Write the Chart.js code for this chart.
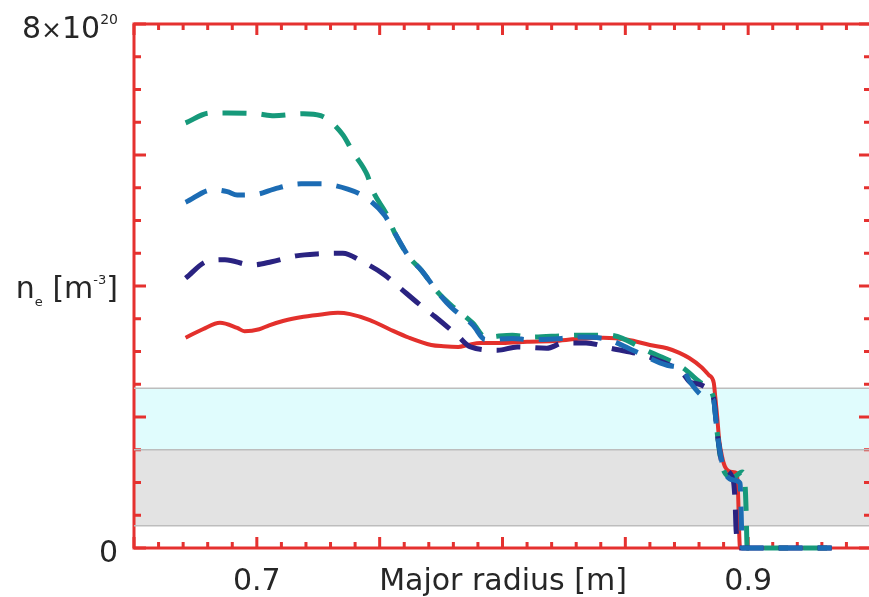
<!DOCTYPE html>
<html>
<head>
<meta charset="utf-8">
<script src="https://cdn.jsdelivr.net/npm/chart.js@4.4.1/dist/chart.umd.min.js"></script>
<style>
  html, body { margin: 0; padding: 0; background: #fff; overflow: hidden; width: 869px; height: 597px; }
  #wrap { width: 869px; height: 597px; overflow: hidden; position: relative; }
  #chart { position: absolute; left: 0; top: 0; }
</style>
</head>
<body>
<div id="wrap"><canvas id="chart" width="876" height="597"></canvas></div>
<script>
// major radius [m] and n_e [1e20 m^-3]
const redR = [0.671, 0.678, 0.685, 0.692, 0.695, 0.701, 0.705, 0.711, 0.719, 0.727, 0.733, 0.738, 0.746, 0.754, 0.762, 0.771, 0.776, 0.782, 0.786, 0.791, 0.800, 0.810, 0.821, 0.830, 0.841, 0.851, 0.860, 0.867, 0.872, 0.876, 0.881, 0.884, 0.886, 0.8866, 0.8874, 0.8882, 0.8894, 0.8906, 0.8935, 0.8955, 0.8967, 0.934];
const redNe = [3.21, 3.34, 3.44, 3.36, 3.31, 3.34, 3.40, 3.47, 3.53, 3.57, 3.59, 3.57, 3.48, 3.34, 3.21, 3.10, 3.08, 3.07, 3.10, 3.13, 3.13, 3.15, 3.16, 3.19, 3.21, 3.18, 3.10, 3.05, 2.98, 2.90, 2.76, 2.64, 2.52, 2.31, 2.00, 1.65, 1.39, 1.24, 1.16, 1.14, 0, 0];

const greenR = [0.671, 0.681, 0.688, 0.700, 0.707, 0.719, 0.726, 0.735, 0.739, 0.745, 0.747, 0.753, 0.756, 0.762, 0.767, 0.774, 0.779, 0.788, 0.793, 0.804, 0.811, 0.824, 0.830, 0.843, 0.860, 0.8735, 0.8805, 0.8858, 0.8874, 0.8894, 0.8939, 0.8976, 0.8988, 0.8992, 0.8996, 0.934];
const greenNe = [6.49, 6.64, 6.64, 6.63, 6.60, 6.63, 6.60, 6.31, 6.05, 5.69, 5.47, 5.08, 4.82, 4.44, 4.24, 3.89, 3.71, 3.43, 3.22, 3.25, 3.22, 3.24, 3.25, 3.25, 2.99, 2.75, 2.53, 2.31, 1.76, 1.24, 1.08, 1.16, 0.93, 0.53, 0, 0];

const blueR = [0.671, 0.682, 0.688, 0.692, 0.700, 0.707, 0.718, 0.726, 0.737, 0.744, 0.752, 0.756, 0.762, 0.767, 0.774, 0.779, 0.788, 0.793, 0.804, 0.811, 0.824, 0.830, 0.841, 0.853, 0.867, 0.8735, 0.8764, 0.8833, 0.8858, 0.8874, 0.8898, 0.8939, 0.8967, 0.8971, 0.8976, 0.934];
const blueNe = [5.28, 5.47, 5.44, 5.39, 5.40, 5.48, 5.56, 5.56, 5.48, 5.36, 5.08, 4.82, 4.44, 4.24, 3.89, 3.68, 3.40, 3.18, 3.20, 3.18, 3.20, 3.22, 3.20, 3.02, 2.79, 2.72, 2.53, 2.29, 2.26, 1.76, 1.24, 1.04, 0.99, 0.60, 0, 0];

const navyR = [0.671, 0.680, 0.687, 0.698, 0.706, 0.716, 0.7245, 0.735, 0.743, 0.752, 0.758, 0.7665, 0.7726, 0.7815, 0.787, 0.798, 0.806, 0.818, 0.825, 0.834, 0.844, 0.861, 0.8735, 0.8764, 0.8858, 0.8874, 0.8898, 0.8939, 0.8947, 0.8951, 0.8967, 0.934];
const navyNe = [4.12, 4.38, 4.40, 4.32, 4.37, 4.46, 4.49, 4.50, 4.37, 4.17, 3.98, 3.71, 3.53, 3.25, 3.07, 3.02, 3.07, 3.05, 3.13, 3.13, 3.05, 2.90, 2.66, 2.53, 2.31, 1.76, 1.24, 1.04, 0.69, 0.27, 0, 0];

// shaded bands (n_e levels)
const bandEdges = [2.44, 1.50, 0.34];
const bandFills = ['#e0fcfd', '#e3e3e3'];

const xRange = [0.65, 0.95];
const yRange = [0, 8];
const xTickValues = [0.7, 0.9];
const xTickLabels = ['0.7', '0.9'];
const xTitle = 'Major radius [m]';

const frameColor = '#e5312f';
const textColor = '#262626';
const font = '"DejaVu Sans", sans-serif';

const toPts = (xs, ys) => xs.map((x, i) => ({ x: x, y: ys[i] }));

function curve(label, xs, ys, color, dashed, order) {
    return {
        label: label,
        data: toPts(xs, ys),
        borderColor: color,
        borderWidth: dashed ? 5 : 4,
        borderDash: dashed ? [24, 15] : [],
        pointRadius: 0,
        fill: false,
        cubicInterpolationMode: 'monotone',
        clip: 8,
        order: order,
    };
}

function band(level, fill, bg) {
    return {
        data: [{ x: xRange[0], y: level }, { x: xRange[1], y: level }],
        borderColor: '#bdbdbd',
        borderWidth: 1.5,
        backgroundColor: bg || 'rgba(0,0,0,0)',
        fill: fill,
        pointRadius: 0,
        order: 20,
    };
}

function drawRich(ctx, segs, x, baseline, align) {
    let w = 0;
    segs.forEach(s => { ctx.font = s.size + 'px ' + font; w += ctx.measureText(s.t).width; });
    let cx = align === 'right' ? x - w : align === 'center' ? x - w / 2 : x;
    segs.forEach(s => {
        ctx.font = s.size + 'px ' + font;
        ctx.fillText(s.t, cx, baseline + (s.dy || 0));
        cx += ctx.measureText(s.t).width;
    });
}

const framePlugin = {
    id: 'frame',
    beforeDatasetsDraw(chart) {
        const { ctx, chartArea: a, scales: { x, y } } = chart;
        ctx.save();
        ctx.strokeStyle = frameColor;
        ctx.lineWidth = 3;
        ctx.strokeRect(a.left, a.top, a.right - a.left, a.bottom - a.top);
        ctx.beginPath();
        for (let i = 0; i <= 30; i++) {
            const px = x.getPixelForValue(xRange[0] + i * 0.01);
            const len = i % 5 === 0 ? 11 : 6;
            ctx.moveTo(px, a.bottom); ctx.lineTo(px, a.bottom - len);
            ctx.moveTo(px, a.top); ctx.lineTo(px, a.top + len);
        }
        for (let i = 0; i <= 16; i++) {
            const py = y.getPixelForValue(i * 0.5);
            const len = i % 4 === 0 ? 12 : 7;
            ctx.moveTo(a.left, py); ctx.lineTo(a.left + len, py);
            ctx.moveTo(a.right, py); ctx.lineTo(a.right - len, py);
        }
        ctx.stroke();
        ctx.restore();
    },
    afterDraw(chart) {
        const { ctx, chartArea: a, scales: { x, y } } = chart;
        ctx.save();
        ctx.fillStyle = textColor;
        ctx.textBaseline = 'alphabetic';
        const lx = a.left - 16;
        drawRich(ctx, [{ t: '8', size: 30 }, { t: '×', size: 25 }, { t: '10', size: 30 }, { t: '20', size: 14, dy: -14 }],
            lx, y.getPixelForValue(yRange[1]) + 14, 'right');
        drawRich(ctx, [{ t: '0', size: 30 }], lx, y.getPixelForValue(yRange[0]) + 14, 'right');
        drawRich(ctx, [{ t: 'n', size: 30 }, { t: 'e', size: 13, dy: 8 }, { t: ' [m', size: 30 },
            { t: '-3', size: 13, dy: -14 }, { t: ']', size: 30 }], lx, y.getPixelForValue(4) + 12, 'right');
        xTickValues.forEach((v, i) => {
            drawRich(ctx, [{ t: xTickLabels[i], size: 30 }], x.getPixelForValue(v), 590, 'center');
        });
        drawRich(ctx, [{ t: xTitle, size: 30 }], 503, 590, 'center');
        ctx.restore();
    },
};

const ctx = document.getElementById('chart').getContext('2d');
new Chart(ctx, {
    type: 'line',
    data: {
        datasets: [
            curve('blue', blueR, blueNe, '#1c6cb4', true, 1),
            curve('navy', navyR, navyNe, '#2a2381', true, 2),
            curve('green', greenR, greenNe, '#16997a', true, 3),
            curve('red', redR, redNe, '#e3302c', false, 4),
            band(bandEdges[0], '+1', bandFills[0]),
            band(bandEdges[1], '+1', bandFills[1]),
            band(bandEdges[2], false),
        ],
    },
    options: {
        responsive: false,
        animation: false,
        devicePixelRatio: 1,
        layout: { padding: { left: 134, top: 24, right: 5, bottom: 49 } },
        scales: {
            x: { type: 'linear', min: xRange[0], max: xRange[1], display: false },
            y: { type: 'linear', min: yRange[0], max: yRange[1], display: false },
        },
        plugins: {
            legend: { display: false },
            tooltip: { enabled: false },
            filler: { drawTime: 'beforeDatasetsDraw' },
        },
    },
    plugins: [framePlugin],
});
</script>
</body>
</html>
